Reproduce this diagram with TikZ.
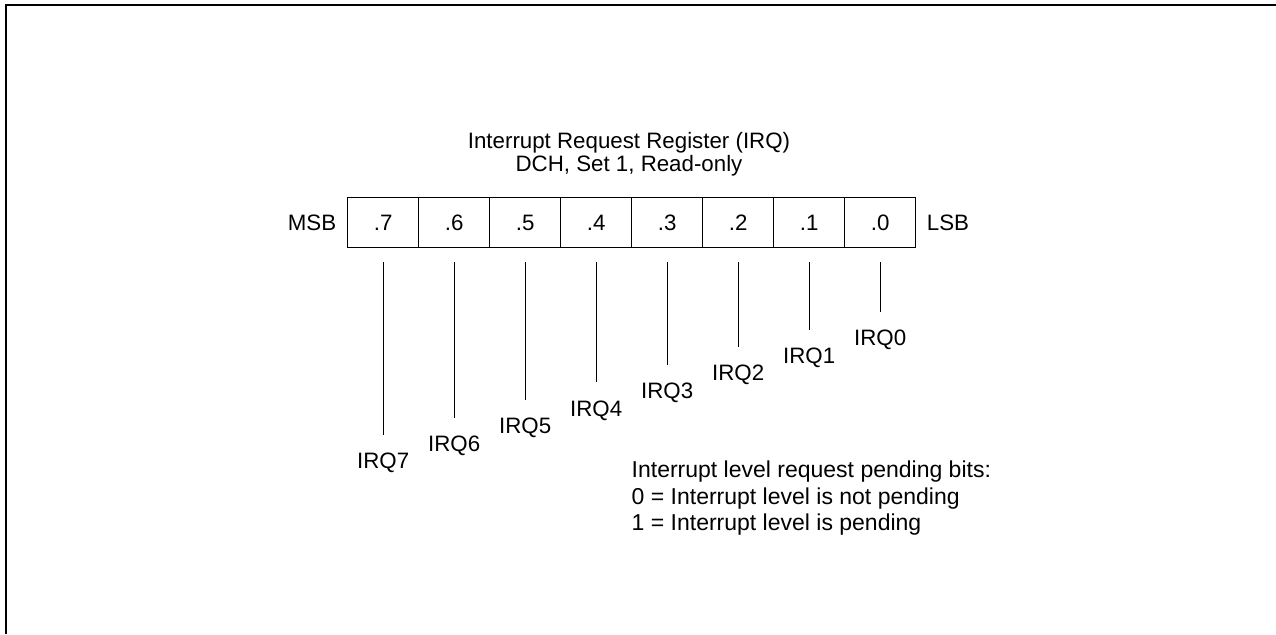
\documentclass[tikz,border=0pt]{standalone}
\usepackage{fontspec}
\setmainfont{Liberation Sans}
\begin{document}
\begin{tikzpicture}[x=1pt,y=-1pt,
  txt/.style={font=\fontsize{22.3}{22}\selectfont, inner sep=0pt},
  note/.style={font=\fontsize{23}{24}\selectfont, inner sep=0pt, anchor=base west},
  cell/.style={draw, line width=1.2pt, minimum width=71pt, minimum height=49.5pt, inner sep=0pt, font=\fontsize{22.3}{22}\selectfont},
  lbl/.style={txt, anchor=north, text height=16pt, text depth=0pt},
  tick/.style={line width=1.2pt}]
\useasboundingbox (0,0) rectangle (1276,634);
\draw[line width=1.7pt] (5.7,634) -- (5.7,4.8) -- (1276,4.8);
% title
\node[txt, anchor=base] (t1) at (629,148.5) {Interrupt Request Register (IRQ)};
\node[txt, anchor=base] (t2) at (629,171) {DCH, Set 1, Read-only};
% register cells
\foreach \i/\x in {7/383.2,6/454.2,5/525.2,4/596.2,3/667.2,2/738.2,1/809.2,0/880.2}{
  \node[cell] (b\i) at (\x,222.5) {.\i};
}
\node[txt] (msb) at (312,223) {MSB};
\node[txt] (lsb) at (948,223) {LSB};
% bit labels and lines
\foreach \i in {0,...,7}{
  \pgfmathsetmacro{\yy}{312+17.6*\i+17.5}
  \node[lbl] (l\i) at (b\i.south |- 0,\yy) {IRQ\i};
}
\foreach \i in {0,...,7}{
  \draw[tick, shorten <=14.5pt, shorten >=17.5pt] (b\i.south) -- (l\i.north);
}
% note
\node[note] (n1) at (631.5,477.5) {Interrupt level request pending bits:};
\node[note] (n2) at (631.5,504) {0 = Interrupt level is not pending};
\node[note] (n3) at (631.5,530.5) {1 = Interrupt level is pending};
\end{tikzpicture}
\end{document}
